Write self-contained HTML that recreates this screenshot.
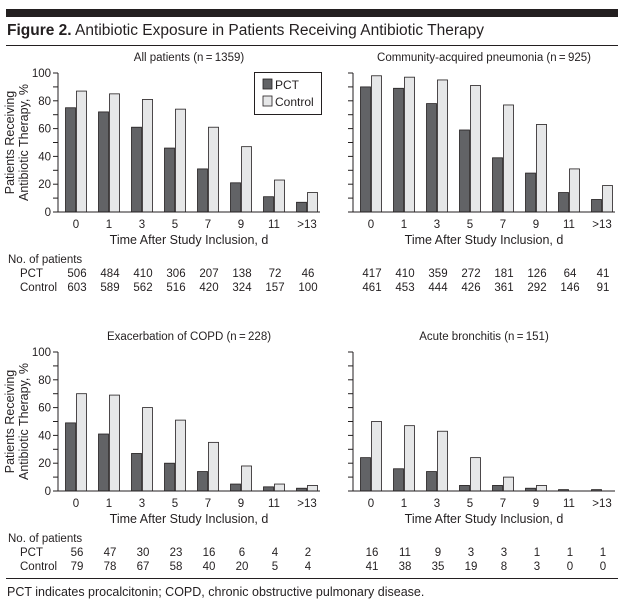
<!DOCTYPE html>
<html><head><meta charset="utf-8"><style>
body{margin:0;background:#fff;}
svg{display:block;font-family:"Liberation Sans",Arial,sans-serif;}
</style></head><body>
<svg id="fig" width="627" height="607" viewBox="0 0 627 607" xmlns="http://www.w3.org/2000/svg">
<rect x="6" y="9" width="612" height="8" fill="#231f20"/>
<text x="7" y="35" font-size="15.5" fill="#231f20"><tspan font-weight="bold">Figure 2.</tspan> Antibiotic Exposure in Patients Receiving Antibiotic Therapy</text>
<line x1="6" y1="45.5" x2="618" y2="45.5" stroke="#231f20" stroke-width="1"/>
<line x1="6" y1="578.5" x2="618" y2="578.5" stroke="#231f20" stroke-width="1"/>
<text x="7" y="596" font-size="12.5" fill="#231f20">PCT indicates procalcitonin; COPD, chronic obstructive pulmonary disease.</text>
</svg>
<script>
const categories=["0","1","3","5","7","9","11",">13"];
const titles=["All patients (n\u2009=\u20091359)","Community-acquired pneumonia (n\u2009=\u2009925)","Exacerbation of COPD (n\u2009=\u2009228)","Acute bronchitis (n\u2009=\u2009151)"];
const pctAll=[75,72,61,46,31,21,11,7];
const ctlAll=[87,85,81,74,61,47,23,14];
const pctCap=[90,89,78,59,39,28,14,9];
const ctlCap=[98,97,95,91,77,63,31,19];
const pctCopd=[49,41,27,20,14,5,3,2];
const ctlCopd=[70,69,60,51,35,18,5,4];
const pctAb=[24,16,14,4,4,2,1,1];
const ctlAb=[50,47,43,24,10,4,0,0];
const nPctAll=[506,484,410,306,207,138,72,46];
const nCtlAll=[603,589,562,516,420,324,157,100];
const nPctCap=[417,410,359,272,181,126,64,41];
const nCtlCap=[461,453,444,426,361,292,146,91];
const nPctCopd=[56,47,30,23,16,6,4,2];
const nCtlCopd=[79,78,67,58,40,20,5,4];
const nPctAb=[16,11,9,3,3,1,1,1];
const nCtlAb=[41,38,35,19,8,3,0,0];
const yTicks=[0,20,40,60,80,100];

const svg=document.getElementById('fig');
const NS="http://www.w3.org/2000/svg";
function mk(tag,attrs,parent){const e=document.createElementNS(NS,tag);for(const k in attrs)e.setAttribute(k,attrs[k]);(parent||svg).appendChild(e);return e;}
function txt(x,y,s,anchor,size,parent){const t=mk('text',{x:x,y:y,'font-size':size||11.5,'text-anchor':anchor||'middle',fill:'#231f20'},parent);t.textContent=s;return t;}

const panels=[
 {ox:0,oy:0,p:pctAll,c:ctlAll,np:nPctAll,nc:nCtlAll,labels:true,name:'all-patients'},
 {ox:295,oy:0,p:pctCap,c:ctlCap,np:nPctCap,nc:nCtlCap,labels:false,name:'pneumonia'},
 {ox:0,oy:279,p:pctCopd,c:ctlCopd,np:nPctCopd,nc:nCtlCopd,labels:true,name:'copd'},
 {ox:295,oy:279,p:pctAb,c:ctlAb,np:nPctAb,nc:nCtlAb,labels:false,name:'bronchitis'}
];
panels.forEach((P,pi)=>{
  const g=mk('g',{});
  
  
  const ax=58+P.ox, y0=212+P.oy, y100=73+P.oy, xEnd=320+P.ox;
  const yS=v=>y0-(y0-y100)*v/100;
  const xC=i=>ax+18+i*33;
  const t=txt(ax+(xEnd-ax)/2,61+P.oy,titles[pi],'middle',11.5,g);
  
  
  P.p.forEach((v,i)=>{
    const b=mk('rect',{x:xC(i)-10.5,y:yS(v),width:10,height:y0-yS(v),fill:'#626366',stroke:'#231f20','stroke-width':0.8},g);
    
    
    if(P.c[i]>0){
    const c=mk('rect',{x:xC(i)+0.5,y:yS(P.c[i]),width:10,height:y0-yS(P.c[i]),fill:'#e6e7e8',stroke:'#231f20','stroke-width':0.8},g);
    
    }
  });
  const yl=mk('line',{x1:ax,y1:y100,x2:ax,y2:y0,stroke:'#231f20','stroke-width':1},g);
  
  
  const xl=mk('line',{x1:ax,y1:y0,x2:xEnd,y2:y0,stroke:'#231f20','stroke-width':1},g);
  
  
  yTicks.forEach(v=>{
    mk('line',{x1:ax-5,y1:yS(v),x2:ax,y2:yS(v),stroke:'#231f20','stroke-width':1},g);
    mk('line',{x1:ax-5,y1:yS(v+10),x2:ax,y2:yS(v+10),stroke:'#231f20','stroke-width':v<100?1:0},g);
    if(P.labels){const tl=txt(ax-7,yS(v)+4,String(v),'end',11.5,g);
      
      }
  });
  categories.forEach((c,i)=>{
    const tl=txt(xC(i),y0+16,c,'middle',11.5,g);
    
    
    const a=txt(xC(i)+1,y0+65,String(P.np[i]),'middle',11.5,g);
    
    
    const b=txt(xC(i)+1,y0+79,String(P.nc[i]),'middle',11.5,g);
    
    
  });
  const xt=txt(ax+(xEnd-ax)/2,y0+32,'Time After Study Inclusion, d','middle',12.5,g);
  
  
  if(P.labels){
    const yt=mk('text',{transform:`translate(14,${(y0+y100)/2}) rotate(-90)`,'font-size':12.5,'text-anchor':'middle',fill:'#231f20'},g);
    
    
    const s1=mk('tspan',{x:0,dy:0},yt);s1.textContent='Patients Receiving';
    const s2=mk('tspan',{x:0,dy:14},yt);s2.textContent='Antibiotic Therapy, %';
    const h=txt(8,y0+51,'No. of patients','start',11.5,g);
    
    
    const r1=txt(20,y0+65,'PCT','start',11.5,g);
    
    
    const r2=txt(20,y0+79,'Control','start',11.5,g);
    
    
  }
});
// legend
const lg=mk('g',{});


mk('rect',{x:254.5,y:72.5,width:67,height:42,fill:'#fff',stroke:'#231f20','stroke-width':1},lg);
mk('rect',{x:263,y:79,width:9,height:10,fill:'#626366',stroke:'#231f20','stroke-width':0.8},lg);
mk('rect',{x:263,y:96,width:9,height:10,fill:'#e6e7e8',stroke:'#231f20','stroke-width':0.8},lg);
const l1=txt(275,89,'PCT','start',12,lg);


const l2=txt(275,106,'Control','start',12,lg);


</script>
</body></html>
